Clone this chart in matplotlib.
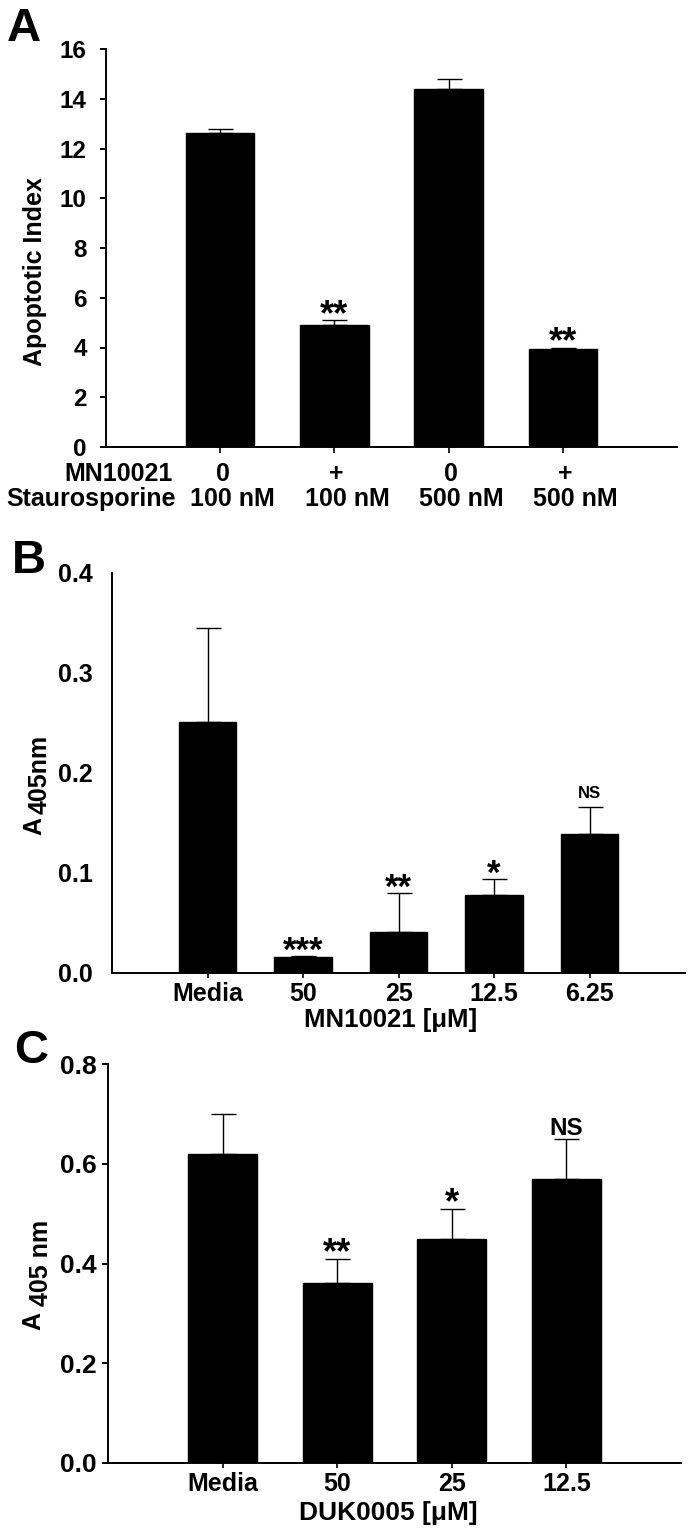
import numpy as np
import matplotlib
matplotlib.use('Agg')
from matplotlib import pyplot as plt
from matplotlib import transforms

plt.rcParams['font.family'] = ['Liberation Sans', 'DejaVu Sans']
plt.rcParams['font.weight'] = 'bold'
plt.rcParams['axes.labelweight'] = 'bold'

# panel A data
a_mn = ['0', '+', '0', '+']
a_stauro = ['100 nM', '100 nM', '500 nM', '500 nM']
a_mean = [12.62, 4.92, 14.41, 3.92]
a_sem = [0.18, 0.18, 0.39, 0.08]
a_sig = ['', '**', '', '**']

# panel B data
b_labels = ['Media', '50', '25', '12.5', '6.25']
b_mean = [0.251, 0.016, 0.041, 0.078, 0.139]
b_sem = [0.094, 0.001, 0.039, 0.016, 0.027]
b_sig = ['', '***', '**', '*', 'NS']

# panel C data
c_labels = ['Media', '50', '25', '12.5']
c_mean = [0.62, 0.36, 0.45, 0.57]
c_sem = [0.08, 0.05, 0.06, 0.08]
c_sig = ['', '**', '*', 'NS']

W, H = 690, 1530
fig = plt.figure(figsize=(W / 100, H / 100), dpi=100)


def rect(l, r, t, b):
    return [l / W, 1 - b / H, (r - l) / W, (b - t) / H]


def ftext(x, y, s, **kw):
    # text placed in pixel coords (origin top-left)
    return fig.text(x / W, 1 - y / H, s, **kw)


def bars(ax, mean, sem, ylim, ytick_size, ytick_len, ytick_pad):
    x = np.arange(len(mean))
    ax.bar(x, mean, width=0.6, color='black', edgecolor='black', zorder=2)
    ax.errorbar(x, mean, yerr=[np.zeros(len(mean)), sem], fmt='none',
                ecolor='black', elinewidth=1.0, capsize=9, capthick=1.0, zorder=1)
    ax.set_xlim(-1, len(mean))
    ax.set_ylim(*ylim)
    for s in ['top', 'right']:
        ax.spines[s].set_visible(False)
    for s in ['left', 'bottom']:
        ax.spines[s].set_linewidth(1.4)
    ax.set_xticks(x)
    ax.tick_params(axis='y', labelsize=ytick_size, length=ytick_len, width=1.4,
                   pad=ytick_pad, direction='out')
    ax.tick_params(axis='x', length=4, width=1.2, direction='out')
    return x


def stars(ax, x, mean, sem, sig, star_size, ns_size, ns_off):
    for xi, m, e, s in zip(x, mean, sem, sig):
        if not s:
            continue
        if s == 'NS':
            ax.annotate(s, (xi, m + e), xytext=(0, ns_off), textcoords='offset points',
                        ha='center', va='baseline', fontsize=ns_size)
        else:
            ax.annotate(s, (xi, m + e), xytext=(0, -3.5), textcoords='offset points',
                        ha='center', va='baseline', fontsize=star_size)


# ---------------- A ----------------
axA = fig.add_axes(rect(106, 677, 49, 447))
xA = bars(axA, a_mean, a_sem, (0, 16), 17.5, 4.3, 9.5)
axA.set_yticks(np.arange(0, 17, 2))
axA.set_xticklabels([])
stars(axA, xA, a_mean, a_sem, a_sig, 26, 14, 5)
trA = transforms.blended_transform_factory(axA.transData, fig.transFigure)
for xi, m, s in zip(xA, a_mn, a_stauro):
    axA.text(xi + 0.02, 1 - 481 / H, m, transform=trA, ha='center', va='baseline', fontsize=18)
    axA.text(xi + 0.11, 1 - 506 / H, s, transform=trA, ha='center', va='baseline', fontsize=18)
ftext(173, 481, 'MN10021', ha='right', va='baseline', fontsize=18)
ftext(176, 506, 'Staurosporine', ha='right', va='baseline', fontsize=18)
ftext(35, 272, 'Apoptotic Index', rotation=90, ha='center', va='center', fontsize=18)
ftext(7, 41, 'A', ha='left', va='baseline', fontsize=34)

# ---------------- B ----------------
axB = fig.add_axes(rect(112, 685, 573, 973))
xB = bars(axB, b_mean, b_sem, (0, 0.4), 18, 0, 13.5)
axB.set_yticks([0.0, 0.1, 0.2, 0.3, 0.4])
axB.set_yticklabels(['0.0', '0.1', '0.2', '0.3', '0.4'])
axB.set_xticklabels(b_labels, fontsize=18)
axB.tick_params(axis='x', pad=3, length=3.6)
stars(axB, xB, b_mean, b_sem, b_sig, 25, 12, 6.5)
ftext(391, 1027, 'MN10021 [μM]', ha='center', va='baseline', fontsize=18.5)
ftext(34, 826, 'A', rotation=90, ha='center', va='center', fontsize=18)
ftext(40, 774, '405nm', rotation=90, ha='center', va='center', fontsize=18)
ftext(12, 573, 'B', ha='left', va='baseline', fontsize=34)

# ---------------- C ----------------
axC = fig.add_axes(rect(108, 681, 1064, 1463))
xC = bars(axC, c_mean, c_sem, (0, 0.8), 19, 4.3, 4)
axC.set_yticks([0.0, 0.2, 0.4, 0.6, 0.8])
axC.set_yticklabels(['0.0', '0.2', '0.4', '0.6', '0.8'])
axC.set_xticklabels(c_labels, fontsize=18)
axC.tick_params(axis='x', pad=3, length=3.6)
stars(axC, xC, c_mean, c_sem, c_sig, 26, 17.5, 3)
ftext(388, 1520, 'DUK0005 [μM]', ha='center', va='baseline', fontsize=19)
ftext(33, 1321, 'A', rotation=90, ha='center', va='center', fontsize=18)
ftext(41, 1263, '405 nm', rotation=90, ha='center', va='center', fontsize=18)
ftext(14, 1063, 'C', ha='left', va='baseline', fontsize=34)

fig.savefig('out.png', dpi=100)
